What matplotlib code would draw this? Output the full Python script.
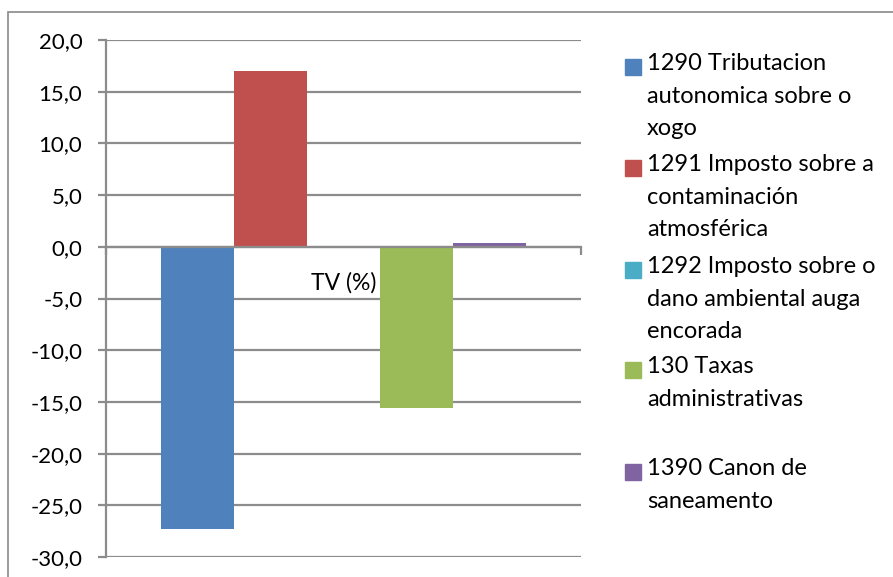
import matplotlib
matplotlib.use("Agg")
import matplotlib.pyplot as plt
from matplotlib.patches import Rectangle
from matplotlib.ticker import FuncFormatter, MultipleLocator
import numpy as np

category = "TV (%)"
series_names = [
    "1290 Tributacion\nautonomica sobre o\nxogo",
    "1291 Imposto sobre a\ncontaminación\natmosférica",
    "1292 Imposto sobre o\ndano ambiental auga\nencorada",
    "130 Taxas\nadministrativas",
    "1390 Canon de\nsaneamento",
]
values = [-27.3, 17.0, 0.0, -15.6, 0.4]
colors = ["#4F81BD", "#C0504D", "#4BACC6", "#9BBB59", "#8064A2"]

plt.rcParams['font.family'] = ['Lato', 'DejaVu Sans']
W, H = 893, 577
fig = plt.figure(figsize=(W/100, H/100), dpi=100)
fig.patch.set_facecolor("white")

# outer border
fig.add_artist(Rectangle((8/W, -0.01), 1.0, 1 - 12/H + 0.01, transform=fig.transFigure,
                         fill=False, edgecolor="#898989", linewidth=1.2))

ax = fig.add_axes([106/W, 20/H, (581-106)/W, (557-40)/H])
n = len(values)
bw = 1.0 / (n + 1.5)
start = -0.5 + 0.75 * bw
for i, (v, c) in enumerate(zip(values, colors)):
    ax.bar(start + bw * i + bw / 2, v, width=bw, color=c, zorder=3)

ax.set_xlim(-0.5, 0.5)
ax.set_ylim(-30, 20)
ax.yaxis.set_major_locator(MultipleLocator(5))
ax.yaxis.set_major_formatter(FuncFormatter(lambda v, p: f"{v:.1f}".replace(".", ",")))
ax.grid(axis="y", color="#8C8C8C", linewidth=1.6, zorder=0)
ax.set_axisbelow(True)

for s in ["top", "right"]:
    ax.spines[s].set_visible(False)
ax.spines["left"].set_color("#8C8C8C")
ax.spines["left"].set_linewidth(1.6)
ax.spines["bottom"].set_position(("data", 0))
ax.spines["bottom"].set_color("#8C8C8C")
ax.spines["bottom"].set_linewidth(1.6)
ax.spines["bottom"].set_zorder(4)

ax.set_xticks([-0.5, 0.5])
ax.set_xticklabels(["", ""])
ax.tick_params(axis="x", direction="out", length=6, width=1.6, color="#8C8C8C")
ax.tick_params(axis="y", direction="out", length=6, width=1.6, color="#8C8C8C",
               labelsize=16, pad=11, labelcolor="#000000")

ax.text(0, -3.5, category, ha="center", va="center", fontsize=16.5, zorder=5)

# legend (Excel style: handle aligned to first line)
entry_tops = [67, 168, 270, 370, 472]
for name, c, yc in zip(series_names, colors, entry_tops):
    fig.add_artist(Rectangle((625/W, 1 - (yc + 8)/H), 16/W, 16/H,
                             transform=fig.transFigure, color=c))
    fig.text(647/W, 1 - (yc - 14)/H, name, ha="left", va="top", fontsize=17,
             linespacing=1.68)

fig.savefig("out.png", dpi=100, facecolor="white")
